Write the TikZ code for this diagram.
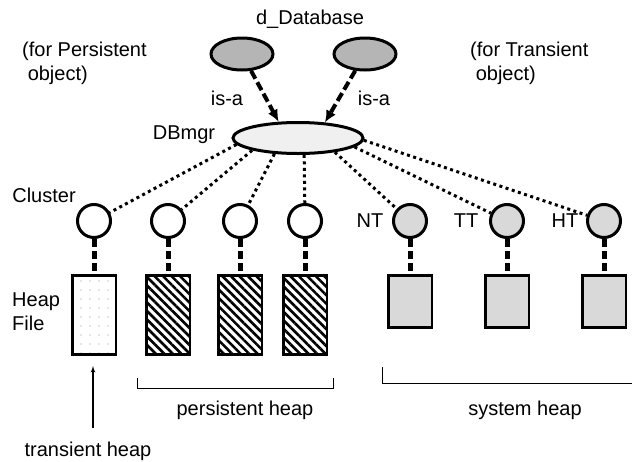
\documentclass[tikz,border=0pt]{standalone}
\usepackage{fontspec}
\setmainfont{Liberation Sans}
\usetikzlibrary{shapes,arrows,arrows.meta,positioning,patterns.meta}
\tikzstyle{oval} = [draw, ellipse, line width=3pt, inner sep=0pt]
\tikzstyle{dbclass} = [oval, fill=gray!58, minimum width=62pt, minimum height=32pt]
\tikzstyle{mgr} = [oval, fill=gray!12, minimum width=130pt, minimum height=31pt]
\tikzstyle{cluster} = [draw, circle, line width=3pt, minimum size=33pt,
    inner sep=0pt, fill=white]
\tikzstyle{syscluster} = [cluster, fill=gray!30]
\tikzstyle{heap} = [draw, rectangle, line width=2.5pt, minimum width=43.5pt,
    inner sep=0pt]
\tikzstyle{transheap} = [heap, minimum height=79pt, pattern color=gray!80,
    pattern={Dots[distance=9pt,radius=0.6pt]}]
\tikzstyle{pheap} = [heap, minimum height=79pt,
    pattern={Lines[angle=-45,distance=6pt,line width=2.6pt]}]
\tikzstyle{sysheap} = [heap, minimum height=52pt, fill=gray!30]
\tikzstyle{isa} = [line width=4pt, dash pattern=on 9pt off 4pt,
    -{Latex[length=12pt,width=11pt]}]
\tikzstyle{branch} = [line width=3pt, dash pattern=on 3pt off 3.5pt]
\tikzstyle{link} = [line width=5pt, dash pattern=on 8pt off 4pt]
\tikzstyle{bracket} = [line width=1pt]
\tikzstyle{txt} = [inner sep=0pt]

\begin{document}
\begin{tikzpicture}[x=1pt,y=-1pt,>=latex',font=\fontsize{20}{24}\selectfont]
  \useasboundingbox (0,0) rectangle (632,461);

  % classes
  \node [txt] (dbtitle) at (310,19) {d\_Database};
  \node [dbclass] (pers) at (242,54) {};
  \node [dbclass] (trans) at (365,54) {};
  \node [txt,align=left,anchor=west] (perscomment) at (22,63)
    {(for Persistent\\\ object)};
  \node [txt,align=left,anchor=west] (transcomment) at (470,63)
    {(for Transient\\\ object)};

  \node [mgr] (dbmgr) at (298,138) {};
  \node [txt] (mgrlabel) at (184,135) {DBmgr};
  \node [txt] (isaleft) at (227,98) {is-a};
  \node [txt] (isaright) at (374,98) {is-a};

  \draw [isa] (pers) -- (dbmgr.140);
  \draw [isa] (trans) -- (dbmgr.30);

  % clusters
  \node [txt] (clusterlabel) at (44,195) {Cluster};
  \node [cluster] (c1) at (94,221) {};
  \node [cluster] (c2) at (168,221) {};
  \node [cluster] (c3) at (240,221) {};
  \node [cluster] (c4) at (305,221) {};
  \node [syscluster] (nt) at (410,221) {};
  \node [syscluster] (tt) at (507,221) {};
  \node [syscluster] (ht) at (604,221) {};
  \node [txt] (ntlabel) at (370,221) {NT};
  \node [txt] (ttlabel) at (466,221) {TT};
  \node [txt] (htlabel) at (565,221) {HT};

  \draw [branch] (dbmgr.186) -- (c1);
  \draw [branch] (dbmgr.195) -- (c2);
  \draw [branch] (dbmgr.214) -- (c3);
  \draw [branch] (dbmgr.290) -- (c4);
  \draw [branch] (dbmgr.339) -- (nt);
  \draw [branch] (dbmgr.351) -- (tt);
  \draw [branch] (dbmgr.358) -- (ht);

  % heap files
  \node [txt,align=left,anchor=west] (heaplabel) at (12,312) {Heap\\File};
  \node [transheap,below=35pt of c1] (h1) {};
  \node [pheap,below=35pt of c2] (h2) {};
  \node [pheap,below=35pt of c3] (h3) {};
  \node [pheap,below=35pt of c4] (h4) {};
  \node [sysheap,below=35pt of nt] (h5) {};
  \node [sysheap,below=35pt of tt] (h6) {};
  \node [sysheap,below=35pt of ht] (h7) {};

  \draw [link] (c1) -- (h1);
  \draw [link] (c2) -- (h2);
  \draw [link] (c3) -- (h3);
  \draw [link] (c4) -- (h4);
  \draw [link] (nt) -- (h5);
  \draw [link] (tt) -- (h6);
  \draw [link] (ht) -- (h7);

  % heap kinds
  \coordinate (ptrtail) at (93,428);
  \coordinate (ptrtip) at (93,366);
  \draw [->,line width=1.2pt] (ptrtail) -- (ptrtip);
  \node [txt] (translabel) at (88,451) {transient heap};

  \coordinate (pbl) at (137,378);
  \coordinate (pbr) at (333,378);
  \draw [bracket] (pbl) -- ++(0,10) -| (pbr);
  \node [txt] (perslabel) at (245,410) {persistent heap};

  \coordinate (sbl) at (382,367);
  \coordinate (sbr) at (632,383);
  \draw [bracket] (sbl) |- (sbr);
  \node [txt] (syslabel) at (525,410) {system heap};
\end{tikzpicture}
\end{document}
